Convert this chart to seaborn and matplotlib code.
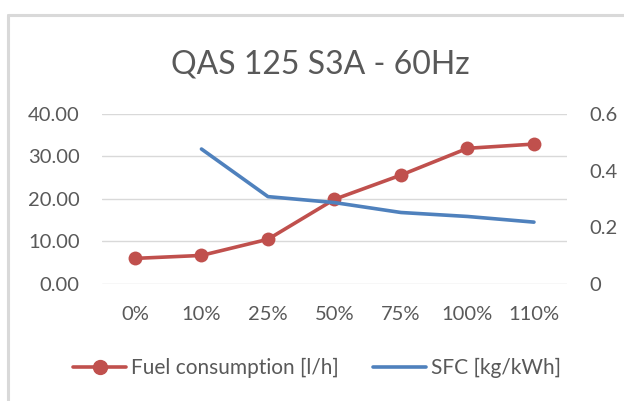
import numpy as np
import pandas as pd
import matplotlib
matplotlib.use("Agg")
import matplotlib.pyplot as plt
import seaborn as sns
from matplotlib.lines import Line2D

# Datos
cargas = ["0%", "10%", "25%", "50%", "75%", "100%", "110%"]
consumo = [6.0, 6.7, 10.5, 19.9, 25.6, 31.9, 32.9]
sfc = [np.nan, 0.476, 0.308, 0.287, 0.252, 0.238, 0.218]

rojo = "#C0504D"
azul = "#4F81BD"
gris_texto = "#595959"

sns.set_style("white")
plt.rcParams["font.family"] = ["Lato", "DejaVu Sans"]

df = pd.DataFrame({"carga": cargas, "pos": range(len(cargas)),
                   "consumo": consumo, "sfc": sfc})

fig = plt.figure(figsize=(6.24, 4.01), dpi=100)
ax = fig.add_axes([0.163, 0.292, 0.746, 0.424])
ax2 = ax.twinx()

sns.lineplot(data=df, x="pos", y="consumo", ax=ax, color=rojo, linewidth=2.6,
             marker="o", markersize=10, markeredgewidth=0, zorder=3)
sns.lineplot(data=df, x="pos", y="sfc", ax=ax2, color=azul, linewidth=2.6, zorder=2)

ax.set_xlim(-0.5, len(cargas) - 0.5)
ax.set_ylim(0, 40)
ax2.set_ylim(0, 0.6)
ax.set_yticks([0, 10, 20, 30, 40])
ax.set_yticklabels([f"{v:.2f}" for v in [0, 10, 20, 30, 40]])
ax2.set_yticks([0, 0.2, 0.4, 0.6])
ax2.set_yticklabels(["0", "0.2", "0.4", "0.6"])
ax.set_xticks(range(len(cargas)))
ax.set_xticklabels(cargas)

ax.grid(axis="y", color="#D9D9D9", linewidth=1)
ax.set_axisbelow(True)
for a in (ax, ax2):
    for s in a.spines.values():
        s.set_visible(False)
    a.set_xlabel("")
    a.set_ylabel("")
    a.tick_params(length=0, labelsize=14.5, labelcolor=gris_texto)
ax.tick_params(axis="y", pad=16)
ax2.tick_params(axis="y", pad=16)
ax.tick_params(axis="x", pad=16)

fig.text(0.514, 0.84, "QAS 125 S3A - 60Hz", ha="center", va="center",
         fontsize=23, color=gris_texto)

handles = [Line2D([], [], color=rojo, linewidth=2.6, marker="o", markersize=10),
           Line2D([], [], color=azul, linewidth=2.6)]
fig.legend(handles, ["Fuel consumption [l/h]", "SFC [kg/kWh]"], loc="center",
           bbox_to_anchor=(0.508, 0.082), ncol=2, frameon=False, fontsize=15,
           labelcolor=gris_texto, handlelength=2.55, handletextpad=0.24,
           columnspacing=1.6)

# marco gris del area del grafico
fig.add_artist(Line2D([0.013, 0.013], [0, 0.963], transform=fig.transFigure,
                      color="#D9D9D9", linewidth=2.2))
fig.add_artist(Line2D([0.013, 1], [0.963, 0.963], transform=fig.transFigure,
                      color="#D9D9D9", linewidth=2.2))

fig.savefig("out.png", dpi=100)
